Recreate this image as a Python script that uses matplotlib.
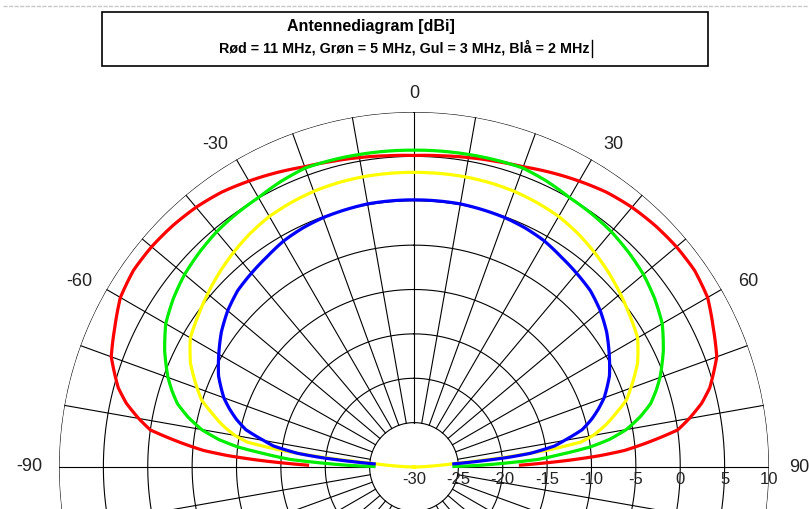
import numpy as np
import matplotlib
matplotlib.use("Agg")
import matplotlib.pyplot as plt
from matplotlib.patches import Rectangle
from matplotlib.lines import Line2D

# data (right half, the pattern is symmetric)
red_ang = [0, 5, 10, 15, 20, 25, 30, 35, 40, 45, 50, 55, 60, 65, 70, 72.5, 75, 77.5, 80, 82, 84,
           85.5, 86.5, 87.5, 88.3, 89]
red_db = [5.1, 5.2, 5.4, 5.65, 6.0, 6.6, 7.2, 7.8, 8.2, 8.45, 8.6, 8.6, 8.2, 7.2, 6.3, 5.4, 4.5, 3.2,
          1.5, 0.0, -3.5, -6.2, -9.0, -12.5, -15.5, -18.0]

green_ang = [0, 5, 10, 15, 20, 25, 30, 35, 40, 45, 50, 55, 60, 65, 70, 72.5, 75, 77.5, 80, 82, 83.5,
             85, 86.5, 87.5, 88.5, 89.3]
green_db = [5.7, 5.72, 5.75, 5.8, 5.85, 5.5, 5.05, 4.85, 4.6, 4.2, 3.75, 3.1, 2.3, 1.0, -0.5, -1.4,
            -2.4, -3.9, -5.7, -7.8, -10.0, -13.2, -16.0, -19.5, -22.5, -25.5]

yellow_ang = [0, 5, 10, 15, 20, 25, 30, 35, 40, 45, 50, 55, 60, 65, 70, 72.5, 75, 77.5, 80, 81.5,
              82.7, 84, 85, 86.5, 88, 89.5]
yellow_db = [3.2, 3.2, 3.2, 3.15, 3.05, 2.85, 2.6, 2.15, 1.6, 1.0, 0.35, -0.3, -0.9, -2.2, -4.0, -4.9,
             -6.4, -7.8, -9.5, -11.0, -14.5, -20.0, -25.2, -27.5, -29.0, -30.0]

blue_ang = [0, 5, 10, 15, 20, 25, 30, 35, 40, 45, 50, 55, 60, 65, 70, 72.5, 75, 77.5, 80, 81.5, 83.3,
            84.2, 84.9, 85.5]
blue_db = [0.1, 0.1, 0.1, 0.0, -0.1, -0.3, -0.6, -1.1, -1.5, -1.9, -2.6, -3.5, -4.6, -5.7, -7.2, -8.2,
           -9.3, -10.6, -12.8, -14.0, -16.8, -19.5, -22.5, -25.5]

ring_vals = [-25, -20, -15, -10, -5, 0, 5, 10]
r_labels = [-30, -25, -20, -15, -10, -5, 0, 5, 10]
ang_labels = [-90, -60, -30, 0, 30, 60, 90]

title1 = "Antennediagram [dBi]"
title2 = "Rød = 11 MHz, Grøn = 5 MHz, Gul = 3 MHz, Blå = 2 MHz"


def mirror(ang, db):
    ang = np.array(ang, dtype=float)
    db = np.array(db, dtype=float)
    a = np.concatenate([-ang[::-1], ang[1:]])
    d = np.concatenate([db[::-1], db[1:]])
    return np.deg2rad(a), d


W, H = 809, 509
fig = plt.figure(figsize=(W / 100, H / 100), dpi=100)

# polar axes: centre at (414, 467) px from top-left, outer radius 355 px
cx, cy, R = 414, 467, 355
ax = fig.add_axes([(cx - R) / W, (H - cy - R) / H, 2 * R / W, 2 * R / H], projection="polar")
ax.set_theta_zero_location("N")
ax.set_theta_direction(-1)
ax.set_rlim(-30, 10)
ax.grid(False)
ax.set_xticks([])
ax.set_yticks([])
ax.spines["polar"].set_visible(False)

# grid
th = np.linspace(0, 2 * np.pi, 721)
for rv in ring_vals:
    ax.plot(th, np.full_like(th, rv), color="black", lw=0.8, zorder=1)
for a in range(0, 360, 10):
    t = np.deg2rad(a)
    ax.plot([t, t], [-25, 10], color="black", lw=0.8, zorder=1)

# curves
for ang, db, col in [(red_ang, red_db, "#ff0000"),
                     (green_ang, green_db, "#00ee00"),
                     (yellow_ang, yellow_db, "#ffff00"),
                     (blue_ang, blue_db, "#0000ff")]:
    t, d = mirror(ang, db)
    ln, = ax.plot(t, d, color=col, lw=2.3, zorder=3, solid_joinstyle="round")
    ln.get_path()._interpolation_steps = 10

# angle labels
lab_pos = {0: (0, 12.1), 30: (31.7, 12.7), 60: (61, 13.1), 90: (90, 13.4)}
for a in ang_labels:
    pa, pr = lab_pos[abs(a)]
    pa = pa if a >= 0 else -pa
    ax.text(np.deg2rad(pa), pr, str(a), ha="center", va="center",
            fontsize=13, color="#222222", family="Liberation Sans", clip_on=False)

# radial labels along the horizontal axis
for rv in r_labels:
    ax.annotate(str(rv), xy=(np.pi / 2, rv), xytext=(0, -12), textcoords="offset pixels",
                ha="center", va="center", fontsize=12, color="#222222",
                family="Liberation Sans", annotation_clip=False)

# title box
fig.add_artist(Rectangle((102 / W, 1 - 66 / H), 606 / W, 54 / H, transform=fig.transFigure,
                         fill=False, ec="black", lw=1.2))
fig.text(371 / W, 1 - 26 / H, title1, ha="center", va="center", fontsize=11.5,
         fontweight="bold", family="Liberation Sans")
t2 = fig.text(404 / W, 1 - 48 / H, title2, ha="center", va="center", fontsize=10.3,
              fontweight="bold", family="Liberation Sans")

# text cursor right after the second line
fig.canvas.draw()
bb = t2.get_window_extent()
xc = (bb.x1 + 3) / W
fig.add_artist(Line2D([xc, xc], [1 - 40 / H, 1 - 57 / H], color="black", lw=1,
                      transform=fig.transFigure))
fig.add_artist(Line2D([3 / W, 1], [1 - 6 / H, 1 - 6 / H], color="#c8c8c8", lw=1,
                      linestyle=(0, (3, 1)), transform=fig.transFigure))

fig.savefig("out.png", dpi=100)
